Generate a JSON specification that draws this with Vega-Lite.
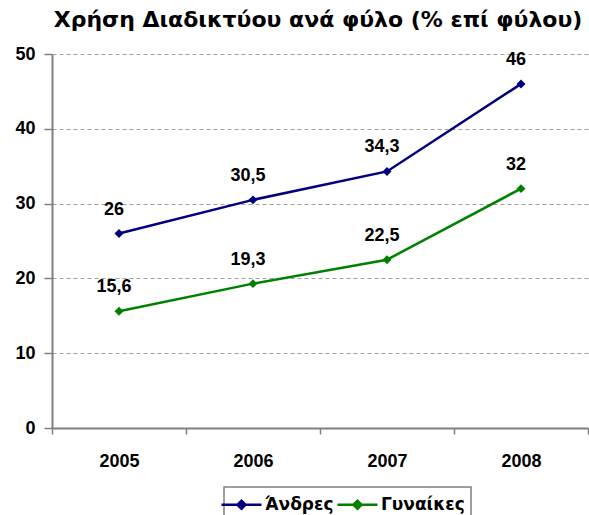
{
  "$schema": "https://vega.github.io/schema/vega-lite/v6.json",
  "width": 536,
  "height": 374,
  "padding": {"left": 52, "top": 54, "right": 1, "bottom": 87},
  "autosize": {"type": "none"},
  "config": {
    "locale": {"number": {"decimal": ",", "thousands": ".", "grouping": [3], "currency": ["", " €"]}},
    "view": {"stroke": null},
    "font": "Liberation Sans"
  },
  "title": {
    "text": "Χρήση Διαδικτύου ανά φύλο (% επί φύλου)",
    "font": "DejaVu Sans",
    "fontSize": 22,
    "fontWeight": "bold",
    "color": "#000000",
    "anchor": "middle",
    "dx": -2,
    "offset": 13
  },
  "data": {
    "values": [
      {"year": "2005", "sex": "Άνδρες", "value": 26},
      {"year": "2006", "sex": "Άνδρες", "value": 30.5},
      {"year": "2007", "sex": "Άνδρες", "value": 34.3},
      {"year": "2008", "sex": "Άνδρες", "value": 46},
      {"year": "2005", "sex": "Γυναίκες", "value": 15.6},
      {"year": "2006", "sex": "Γυναίκες", "value": 19.3},
      {"year": "2007", "sex": "Γυναίκες", "value": 22.5},
      {"year": "2008", "sex": "Γυναίκες", "value": 32}
    ]
  },
  "encoding": {
    "x": {
      "field": "year", "type": "ordinal",
      "scale": {"type": "band", "paddingInner": 0, "paddingOuter": 0},
      "axis": {
        "title": null, "labelAngle": 0, "labelFontSize": 18, "labelFontWeight": "bold",
        "labelColor": "#000000", "labelPadding": 18, "tickSize": 6, "tickColor": "#808080",
        "domainColor": "#808080", "domainWidth": 2, "tickWidth": 1.5, "tickBand": "extent", "grid": false
      }
    },
    "y": {
      "field": "value", "type": "quantitative",
      "scale": {"domain": [0, 50], "nice": false},
      "axis": {
        "title": null, "values": [0, 10, 20, 30, 40, 50], "labelFontSize": 18, "labelFontWeight": "bold",
        "labelColor": "#000000", "labelPadding": 9, "tickSize": 8, "tickColor": "#808080",
        "domainColor": "#808080", "domainWidth": 2, "tickWidth": 1.5,
        "grid": true, "gridDash": [4, 3], "gridColor": "#a0a0a0", "gridWidth": 1.2, "format": "d"
      }
    },
    "color": {
      "field": "sex", "type": "nominal",
      "scale": {"domain": ["Άνδρες", "Γυναίκες"], "range": ["#000080", "#008000"]},
      "legend": {
        "title": null, "orient": "none", "direction": "horizontal",
        "legendX": 172, "legendY": 433,
        "symbolType": "M -2 0 L -0.4 0 L 0 -0.4 L 0.4 0 L 0 0.4 L -0.4 0 M 0.4 0 L 2 0",
        "symbolSize": 400, "symbolStrokeWidth": 2.5, "symbolFillColor": "transparent",
        "labelFont": "DejaVu Sans", "labelFontSize": 17, "labelFontWeight": "bold", "labelColor": "#000000",
        "strokeColor": "#808080", "padding": 6, "columnPadding": -2, "labelOffset": 12,
        "encode": {"legend": {"update": {"stroke": {"value": "#808080"}, "strokeWidth": {"value": 1.5}}}}
      }
    }
  },
  "layer": [
    {"mark": {"type": "line", "strokeWidth": 2.5}},
    {"mark": {"type": "point", "shape": "diamond", "filled": true, "size": 80, "opacity": 1}},
    {
      "mark": {"type": "text", "dy": -24, "dx": -5, "fontSize": 18, "fontWeight": "bold", "color": "#000000"},
      "encoding": {"text": {"field": "value", "type": "quantitative", "format": "~r"}, "color": {"value": "#000000"}}
    }
  ]
}
